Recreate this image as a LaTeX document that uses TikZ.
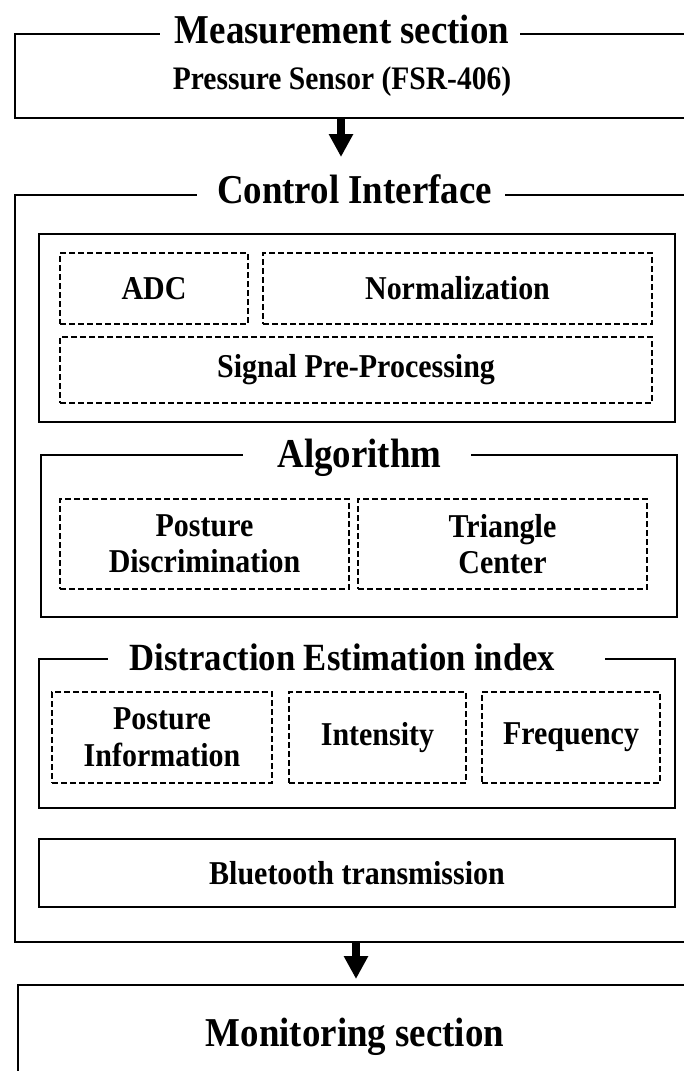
\documentclass[tikz,border=0pt]{standalone}
\usepackage{fontspec}
\setmainfont{Liberation Serif}[FakeStretch=0.9]
\usetikzlibrary{arrows.meta}
\newcommand{\ttlfont}{\fontsize{41}{48}\selectfont\bfseries}
\newcommand{\deifont}{\fontsize{38.5}{46}\selectfont\bfseries}
\newcommand{\bdyfont}{\fontsize{33.3}{36.5}\selectfont\bfseries}
\newcommand{\subfont}{\fontsize{32.8}{35}\selectfont\bfseries}
\begin{document}
\begin{tikzpicture}[x=1pt,y=-1pt,
  solidbox/.style={draw, line width=2.8pt, anchor=north west, inner sep=0pt, outer sep=0pt, font=\bdyfont, align=center},
  dashbox/.style={draw, line width=2.2pt, dash pattern=on 6pt off 3pt, anchor=north west, inner sep=0pt, outer sep=0pt, font=\bdyfont, align=center},
  titlelbl/.style={font=\ttlfont, anchor=base, inner sep=0pt},
  textlbl/.style={font=\subfont, anchor=base, inner sep=0pt},
  gapfill/.style={fill=white},
  flowarrow/.style={line width=8pt, -{Triangle[width=23pt,length=23pt]}}
]
\useasboundingbox (0,0) rectangle (684,1071);
\clip (0,0) rectangle (684,1071);

% Measurement section
\node[solidbox, minimum width=685pt, minimum height=84pt] (ms) at (15,34) {};
\fill[gapfill] (160,30) rectangle (520,38);
\node[titlelbl] (mstitle) at (342,43) {Measurement section};
\node[textlbl] (sensor) at (342,89) {Pressure Sensor (FSR-406)};

% Control interface
\node[solidbox, minimum width=685pt, minimum height=747pt] (ci) at (15,195) {};
\fill[gapfill] (197,190) rectangle (505,199);
\node[titlelbl] (cititle) at (354.5,203) {Control Interface};

% Pre-processing group
\node[solidbox, minimum width=636pt, minimum height=188pt] (pre) at (39,234) {};
\node[dashbox, minimum width=188pt, minimum height=71pt] (adc) at (60,253) {ADC};
\node[dashbox, minimum width=389pt, minimum height=71pt] (norm) at (263,253) {Normalization};
\node[dashbox, minimum width=592pt, minimum height=66pt] (spp) at (60,337) {Signal Pre-Processing};

% Algorithm group
\node[solidbox, minimum width=636pt, minimum height=162pt] (alg) at (41,455) {};
\fill[gapfill] (243,450) rectangle (471,460);
\node[titlelbl] (algtitle) at (359.5,467) {Algorithm};
\node[dashbox, minimum width=289pt, minimum height=90pt] (pd) at (60,499) {Posture\\Discrimination};
\node[dashbox, minimum width=289pt, minimum height=90pt] (tc) at (358,499) {Triangle\\Center};

% Distraction estimation index group
\node[solidbox, minimum width=636pt, minimum height=149pt] (dei) at (39,659) {};
\fill[gapfill] (108,654) rectangle (605,664);
\node[titlelbl, font=\deifont] (deititle) at (342.5,670) {Distraction Estimation index};
\node[dashbox, minimum width=220pt, minimum height=91pt] (pi) at (52,692) {Posture\\Information};
\node[dashbox, minimum width=177pt, minimum height=91pt] (int) at (289,692) {Intensity};
\node[dashbox, minimum width=178pt, minimum height=91pt] (freq) at (482,692) {Frequency};

% Bluetooth
\node[solidbox, minimum width=636pt, minimum height=68pt] (bt) at (39,839) {Bluetooth transmission};

% Monitoring section
\node[solidbox, minimum width=700pt, minimum height=150pt] (mon) at (18,985) {};
\node[titlelbl] (montitle) at (355,1046) {Monitoring section};

% Arrows
\coordinate (a1) at (341,157);
\draw[flowarrow] (ms.south -| a1) -- (a1);
\coordinate (a2) at (356,979);
\draw[flowarrow] (ci.south -| a2) -- (a2);
\end{tikzpicture}
\end{document}
